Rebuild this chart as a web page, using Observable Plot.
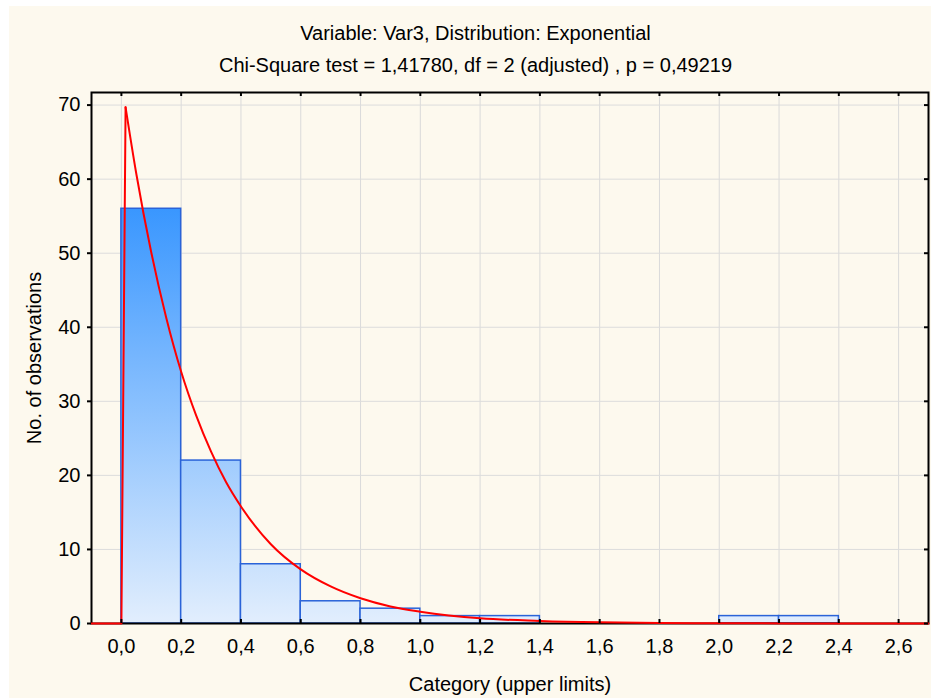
<!DOCTYPE html>
<html><head><meta charset="utf-8">
<script src="https://cdn.jsdelivr.net/npm/d3@7"></script>
<script src="https://cdn.jsdelivr.net/npm/@observablehq/plot@0.6"></script>
<style>
html,body{margin:0;padding:0;background:#fff;}
#wrap{position:absolute;left:0;top:0;width:931px;height:698px;background:#fdf9ee;box-shadow:inset 9px 6px 0 #fff;}
#wrap svg{display:block;}
</style></head><body><div id="wrap"></div>
<script>
const titleLine1 = "Variable: Var3, Distribution: Exponential";
const titleLine2 = "Chi-Square test = 1,41780, df = 2 (adjusted) , p = 0,49219";
const xLabel = "Category (upper limits)";
const yLabel = "No. of observations";

const lowerLimits = [0.0, 0.2, 0.4, 0.6, 0.8, 1.0, 1.2, 1.4, 1.6, 1.8, 2.0, 2.2, 2.4];
const upperLimits = [0.2, 0.4, 0.6, 0.8, 1.0, 1.2, 1.4, 1.6, 1.8, 2.0, 2.2, 2.4, 2.6];
const counts      = [56,  22,  8,   3,   2,   1,   1,   0,   0,   0,   1,   1,   0];

const xTicks = [0.0, 0.2, 0.4, 0.6, 0.8, 1.0, 1.2, 1.4, 1.6, 1.8, 2.0, 2.2, 2.4, 2.6];
const yTicks = [0, 10, 20, 30, 40, 50, 60, 70];

// expected-count curve
const spikeX = [-0.1, 0.0, 0.014];
const spikeY = [0, 0, 69.7];
const curveX = [0.014, 0.05, 0.1, 0.15, 0.2, 0.25, 0.3, 0.35, 0.4, 0.5, 0.6, 0.7, 0.8, 0.9, 1.0, 1.2, 1.4, 1.6, 1.8, 2.0, 2.3, 2.7];
const curveY = [69.7, 60.7, 50.1, 41.3, 34.0, 28.1, 23.2, 19.1, 15.8, 10.7, 7.3, 5.0, 3.4, 2.3, 1.6, 0.7, 0.35, 0.16, 0.07, 0.03, 0.01, 0.0];

const bars = counts.map((c, i) => ({lo: lowerLimits[i], hi: upperLimits[i], n: c})).filter(d => d.n > 0);
const spike = spikeX.map((x, i) => ({x, y: spikeY[i]}));
const curve = curveX.map((x, i) => ({x, y: curveY[i]}));

const W = 931, H = 698, mL = 91, mT = 92, mR = 3, mB = 75;
const plotW = W - mL - mR, plotH = H - mT - mB;
const fmt = d => d3.format(".1f")(d).replace(".", ",");
const font = "'Liberation Sans', Arial, sans-serif";
const FS = 20, LS = 0.4;

const gradientDefs = (index, scales, values, dims) => {
  const ns = "http://www.w3.org/2000/svg";
  const defs = document.createElementNS(ns, "defs");
  const g = document.createElementNS(ns, "linearGradient");
  g.setAttribute("id", "barGrad");
  g.setAttribute("gradientUnits", "userSpaceOnUse");
  g.setAttribute("x1", 0); g.setAttribute("x2", 0);
  g.setAttribute("y1", dims.marginTop);
  g.setAttribute("y2", dims.height - dims.marginBottom);
  [["0", "#0a7eff"], ["1", "#e2eefd"]].forEach(([o, c]) => {
    const s = document.createElementNS(ns, "stop");
    s.setAttribute("offset", o); s.setAttribute("stop-color", c);
    g.appendChild(s);
  });
  defs.appendChild(g);
  return defs;
};

const chart = Plot.plot({
  width: W, height: H,
  marginLeft: mL, marginTop: mT, marginRight: mR, marginBottom: mB,
  style: {background: "transparent", fontFamily: font, fontSize: FS + "px", color: "#000"},
  x: {domain: [-0.1, 2.7], label: null},
  y: {domain: [0, 71.7], label: null},
  marks: [
    gradientDefs,
    Plot.gridX(xTicks, {stroke: "#dadada", strokeOpacity: 1, strokeWidth: 1}),
    Plot.gridY(yTicks, {stroke: "#dcdcdc", strokeOpacity: 1, strokeWidth: 1}),
    Plot.rectY(bars, {x1: "lo", x2: "hi", y: "n", fill: "url(#barGrad)", stroke: "#2a63d8", strokeWidth: 1.5}),
    Plot.frame({stroke: "#000", strokeWidth: 2}),
    Plot.line(spike, {x: "x", y: "y", stroke: "#ff0000", strokeWidth: 2}),
    Plot.line(curve, {x: "x", y: "y", stroke: "#ff0000", strokeWidth: 2, curve: "monotone-x"}),
    Plot.ruleX(xTicks, {x: d => d, insetBottom: plotH - 4, stroke: "#000", strokeWidth: 2}),
    Plot.ruleX(xTicks, {x: d => d, insetTop: plotH - 4, stroke: "#000", strokeWidth: 2}),
    Plot.ruleY(yTicks, {y: d => d, insetLeft: plotW - 4, stroke: "#000", strokeWidth: 2}),
    Plot.axisY({ticks: yTicks, tickSize: 4, tickPadding: 7, strokeWidth: 2, label: null, tickFormat: d => String(d), fontSize: FS, letterSpacing: LS}),
    Plot.axisX({ticks: xTicks, tickSize: 0, tickPadding: 15, label: null, tickFormat: fmt, fontSize: FS, letterSpacing: LS}),
    Plot.text([titleLine1], {frameAnchor: "top", dx: -34.5, dy: -59, text: d => d, fontSize: FS, textAnchor: "middle", lineAnchor: "middle", letterSpacing: LS}),
    Plot.text([titleLine2], {frameAnchor: "top", dx: -34.5, dy: -26.5, text: d => d, fontSize: FS, textAnchor: "middle", lineAnchor: "middle", letterSpacing: LS}),
    Plot.text([xLabel], {frameAnchor: "bottom", dy: 60.6, text: d => d, fontSize: FS, textAnchor: "middle", lineAnchor: "middle", letterSpacing: LS}),
    Plot.text([yLabel], {frameAnchor: "left", dx: -57, rotate: -90, text: d => d, fontSize: FS, textAnchor: "middle", lineAnchor: "middle", letterSpacing: 1.2})
  ]
});
document.getElementById("wrap").appendChild(chart);
</script></body></html>
